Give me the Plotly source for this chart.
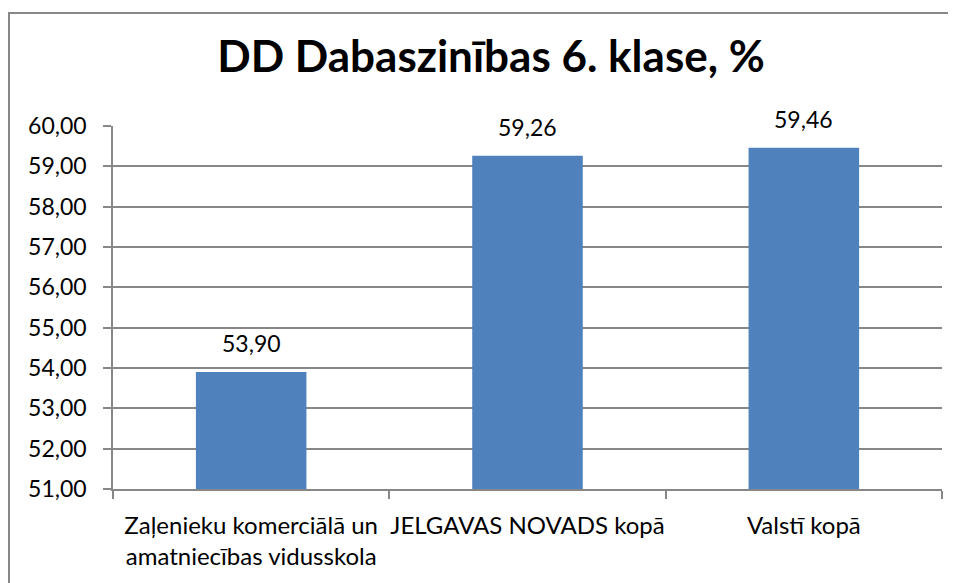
import plotly.graph_objects as go

categories = ["Zaļenieku komerciālā un<br>amatniecības vidusskola", "JELGAVAS NOVADS kopā", "Valstī kopā"]
values = [53.90, 59.26, 59.46]
value_labels = ["53,90", "59,26", "59,46"]
title_text = "DD Dabaszinības 6. klase, %"

OFF = 8  # page body margin
W, H = 956 - OFF, 583 - OFF
L, R, T, B = 113 - OFF, 14, 126 - OFF, 94
pw, ph = W - L - R, H - T - B

def px_x(p):
    return (p - OFF - L) / pw

def px_y(p):
    return (H - B - (p - OFF)) / ph

FONT = "Lato"
GRID = "#878787"

fig = go.Figure()
fig.add_trace(go.Bar(
    x=categories, y=values,
    marker=dict(color="#4F81BD", line=dict(width=0)),
    hoverinfo="skip",
))

for c, v, t in zip(categories, values, value_labels):
    fig.add_annotation(x=c, y=v, text=t, showarrow=False, yanchor="bottom",
                       yshift=13, font=dict(family=FONT, size=23, color="#000000"))

fig.add_shape(type="rect", xref="paper", yref="paper",
              x0=px_x(9), x1=px_x(985), y0=px_y(13), y1=px_y(610),
              line=dict(color=GRID, width=2), fillcolor="rgba(0,0,0,0)", layer="below")

fig.update_layout(
    width=W, height=H,
    margin=dict(l=L, r=R, t=T, b=B, autoexpand=False),
    paper_bgcolor="white", plot_bgcolor="white",
    separators=", ",
    showlegend=False,
    bargap=0.6,
    title=dict(text="<b>" + title_text + "</b>", x=(491 - OFF) / W, xref="container", xanchor="center",
               y=1 - (57 - OFF) / H, yref="container", yanchor="middle",
               font=dict(family=FONT, size=44, color="#000000")),
    font=dict(family=FONT, size=23, color="#000000"),
)

fig.update_yaxes(range=[51, 60], dtick=1, tick0=51, tickformat=".2f",
                 showgrid=True, gridcolor=GRID, gridwidth=1.5,
                 showline=True, linecolor=GRID, linewidth=1.5,
                 ticks="outside", ticklen=8, tickcolor=GRID, tickwidth=1.5,
                 ticklabelstandoff=12, automargin=False,
                 tickfont=dict(family=FONT, size=23, color="#000000"),
                 zeroline=False, fixedrange=True)
fig.update_xaxes(showgrid=False, showline=True, linecolor=GRID, linewidth=1.5,
                 ticks="outside", ticklen=8, tickcolor=GRID, tickwidth=1.5,
                 tickson="boundaries", ticklabelstandoff=14, tickangle=0,
                 automargin=False,
                 tickfont=dict(family=FONT, size=24, color="#000000"),
                 fixedrange=True)

fig.write_html("out.html")
